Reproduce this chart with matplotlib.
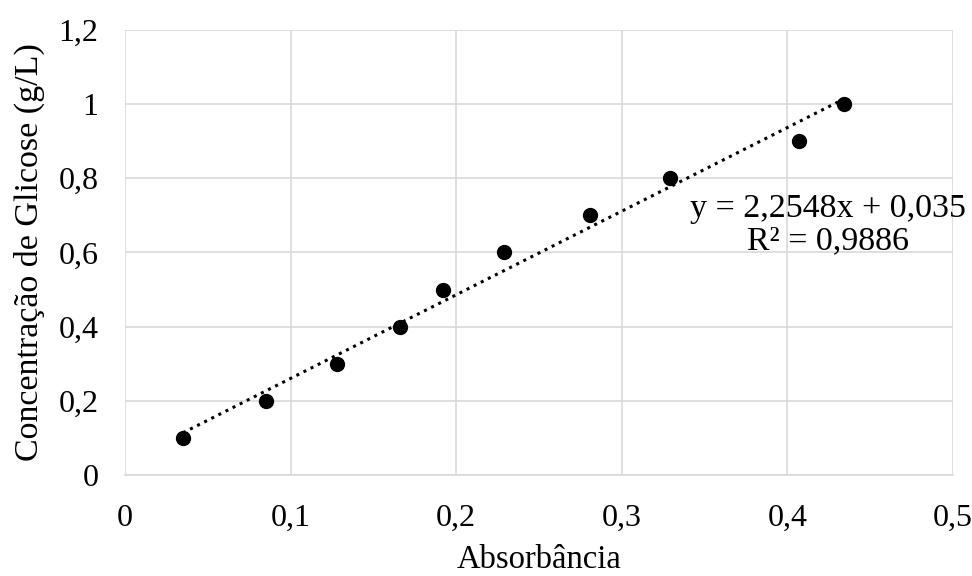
import numpy as np
import matplotlib.pyplot as plt
from matplotlib.ticker import FuncFormatter

# dados
absorbancia = [0.035, 0.085, 0.128, 0.166, 0.192, 0.229, 0.281, 0.329, 0.407, 0.434]
concentracao = [0.1, 0.2, 0.3, 0.4, 0.5, 0.6, 0.7, 0.8, 0.9, 1.0]
coef_a = 2.2548
coef_b = 0.035
r2 = 0.9886

plt.rcParams['font.family'] = ['Liberation Serif', 'DejaVu Serif']

def virgula(v, pos):  # formato com virgula decimal
    s = ('%.1f' % v).rstrip('0').rstrip('.')
    return s.replace('.', ',')

fig = plt.figure(figsize=(9.72, 5.76), dpi=100)
ax = fig.add_axes([0.1286, 0.1753, 0.8519, 0.7727])

ax.scatter(absorbancia, concentracao, s=100, color='black', zorder=3)
xl = np.array([min(absorbancia), max(absorbancia)])
ax.plot(xl, coef_a*xl + coef_b, color='black', linestyle=(0, (1, 1.6)), linewidth=2.2, zorder=2)

ax.set_xlim(0, 0.5)
ax.set_ylim(0, 1.2)
ax.set_xticks(np.arange(0, 0.51, 0.1))
ax.set_yticks(np.arange(0, 1.21, 0.2))
ax.xaxis.set_major_formatter(FuncFormatter(virgula))
ax.yaxis.set_major_formatter(FuncFormatter(virgula))
ax.grid(True, color='#d9d9d9', linewidth=1.2)
ax.set_axisbelow(True)
for s in ['top', 'right', 'left']:
    ax.spines[s].set_visible(False)
ax.spines['bottom'].set_color('#d9d9d9')
ax.spines['bottom'].set_linewidth(1.2)
ax.tick_params(length=0, labelsize=23)
ax.tick_params(axis='x', pad=21)
ax.tick_params(axis='y', pad=19)

ax.set_xlabel('Absorbância', fontsize=23.5, labelpad=8)
ax.set_ylabel('Concentração de Glicose (g/L)', fontsize=24.5, labelpad=10)

eq = 'y = %sx + %s\nR² = %s' % (str(coef_a).replace('.', ','), str(coef_b).replace('.', ','),
                                 str(r2).replace('.', ','))
ax.text(0.4245, 0.674, eq, fontsize=24.5, ha='center', va='center', linespacing=1.05)

fig.savefig('out.png', dpi=100)
